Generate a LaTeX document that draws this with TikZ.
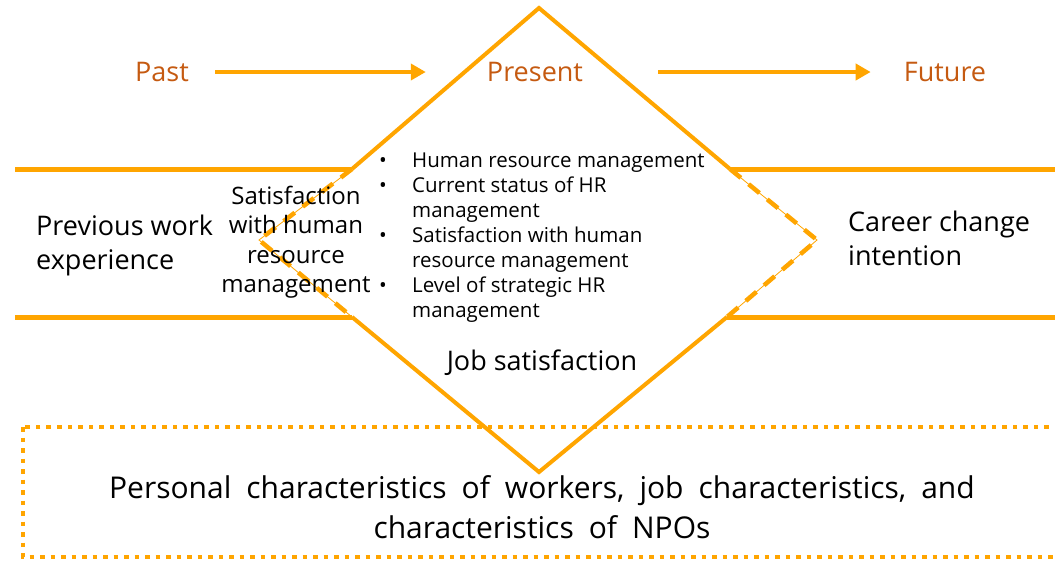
\documentclass[tikz,border=0pt]{standalone}
\usepackage{fontspec}
\setmainfont{Open Sans}
\definecolor{hrorange}{RGB}{255,165,0}
\definecolor{hrbrown}{RGB}{197,90,17}
\usetikzlibrary{arrows.meta,positioning,calc}

\begin{document}
\begin{tikzpicture}[x=1pt,y=-1pt,
  band/.style={hrorange,line width=5pt},
  edge/.style={hrorange,line width=4pt,line join=miter},
  thinedge/.style={hrorange,line width=0.8pt},
  dashedge/.style={hrorange,line width=4.5pt,dash pattern=on 14pt off 10pt},
  dotbox/.style={hrorange,line width=4.5pt,dash pattern=on 4.5pt off 6pt},
  arr/.style={-{Triangle[length=15pt,width=16pt]},hrorange,line width=4.5pt},
  era/.style={font=\fontsize{27}{30}\selectfont,text=hrbrown,inner sep=0pt},
  txt/.style={font=\fontsize{27}{34}\selectfont,align=left,inner sep=0pt},
  note/.style={font=\fontsize{20.5}{25}\selectfont,inner sep=0pt}
]
  \useasboundingbox (0,0) rectangle (1055,560);

  % diamond corners and where the bands meet it
  \coordinate (dtop) at (539,8);
  \coordinate (dbot) at (539,472);
  \coordinate (dleft) at (259,240);
  \coordinate (dright) at (817,240);
  \coordinate (ul) at (352,169);
  \coordinate (ll) at (352,317);
  \coordinate (ur) at (730,169);
  \coordinate (lr) at (727,317);
  % outer ends of the bands
  \coordinate (wtop) at (15,169);
  \coordinate (wbot) at (15,317);
  \coordinate (etop) at (1055,169);
  \coordinate (ebot) at (1055,317);

  % context box
  \draw[dotbox] (23,427) rectangle (1062,557);

  % bands
  \draw[band] (wtop) -- (ul);
  \draw[band] (wbot) -- (ll);
  \draw[band] (ur) -- (etop);
  \draw[band] (lr) -- (ebot);

  % diamond
  \draw[edge] (ul) -- (dtop) -- (ur);
  \draw[edge] (ll) -- (dbot) -- (lr);
  \draw[thinedge] (ul) -- (dleft) -- (ll);
  \draw[dashedge] (ul) -- (dleft) -- (ll);
  \draw[thinedge] (ur) -- (dright) -- (lr);
  \draw[dashedge] (ur) -- (dright) -- (lr);

  % time line
  \node[era] (past) at (162,72) {Past};
  \node[era] (present) at (535,72) {Present};
  \node[era] (future) at (945,72) {Future};
  \draw[arr,shorten <=26pt,shorten >=61pt] (past) -- (present);
  \draw[arr,shorten <=75pt,shorten >=33pt] (present) -- (future);

  % texts
  \node[txt,anchor=west] (prev) at (36,245) {Previous work\\experience};
  \node[txt,anchor=west] (career) at (848,238) {Career change\\intention};
  \node[txt,align=center,font=\fontsize{24}{29.5}\selectfont] (hrsat) at (296,242)
    {Satisfaction\\with human\\resource\\management};
  \node[note,anchor=west] (hrlist) at (379,237) {%
    \begin{tabular}{@{}l@{}l@{}}
      \makebox[33pt][l]{\textbullet} & Human resource management\\
      \textbullet & Current status of HR\\
                  & management\\
      \textbullet & Satisfaction with human\\
                  & resource management\\
      \textbullet & Level of strategic HR\\
                  & management
    \end{tabular}};
  \node[txt] (jobsat) at (542,363) {Job satisfaction};
  \node[txt,align=center,font=\fontsize{30}{40}\selectfont,
    execute at begin node={\spaceskip=0.5em plus 0.1em}] (context) at (542,507)
    {Personal characteristics of workers, job characteristics, and\\characteristics of NPOs};
\end{tikzpicture}
\end{document}
